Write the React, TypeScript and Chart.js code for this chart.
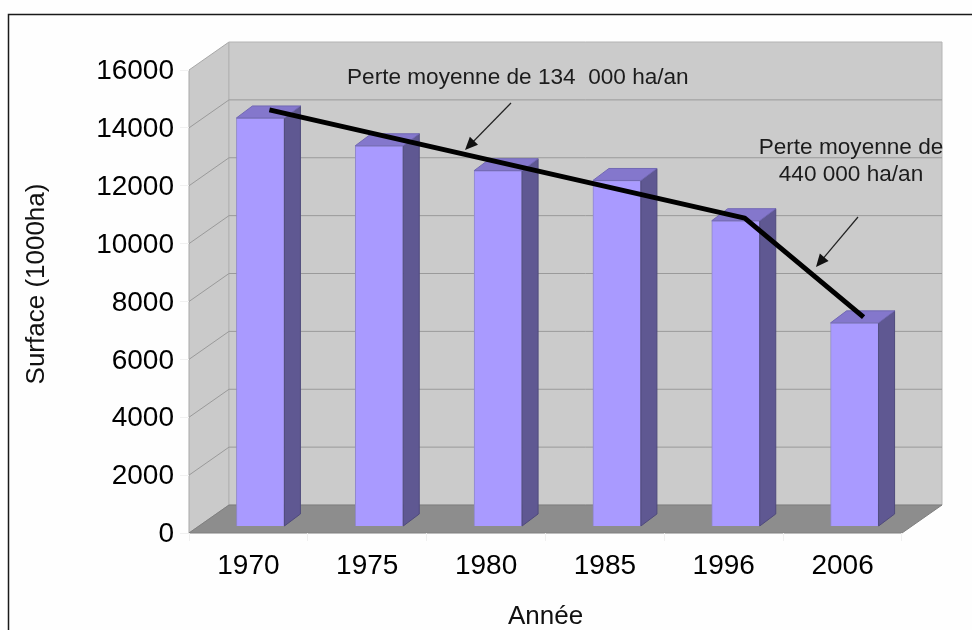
import React, { useEffect, useRef } from "react";
import { Chart, registerables } from "chart.js";

Chart.register(...registerables);

const categories = ["1970", "1975", "1980", "1985", "1996", "2006"];
const surface = [14100, 13140, 12280, 11940, 10550, 7020];
const trend = [14620, null, null, null, 10880, 7460];
const noteTop = "Perte moyenne de 134  000 ha/an";
const noteRight = ["Perte moyenne de", "440 000 ha/an"];
const yTitle = "Surface (1000ha)";
const xTitle = "Année";

const FONT = '"Liberation Sans", Arial, sans-serif';
const WALL = { dx: 40, dy: -28 };
const BAR_DEPTH = { dx: 16, dy: -12 };
const DATASET_SHIFT = [12, 21];

function arrow(ctx: CanvasRenderingContext2D, x1: number, y1: number, x2: number, y2: number) {
  const a = Math.atan2(y2 - y1, x2 - x1);
  ctx.strokeStyle = "#222";
  ctx.fillStyle = "#111";
  ctx.lineWidth = 1.2;
  ctx.beginPath();
  ctx.moveTo(x1, y1);
  ctx.lineTo(x2 - 6 * Math.cos(a), y2 - 6 * Math.sin(a));
  ctx.stroke();
  ctx.beginPath();
  ctx.moveTo(x2, y2);
  ctx.lineTo(x2 - 14 * Math.cos(a - 0.42), y2 - 14 * Math.sin(a - 0.42));
  ctx.lineTo(x2 - 14 * Math.cos(a + 0.42), y2 - 14 * Math.sin(a + 0.42));
  ctx.closePath();
  ctx.fill();
}

function poly(ctx: CanvasRenderingContext2D, pts: number[][], fill: string, stroke?: string) {
  ctx.beginPath();
  pts.forEach(([x, y], i) => (i ? ctx.lineTo(x, y) : ctx.moveTo(x, y)));
  ctx.closePath();
  ctx.fillStyle = fill;
  ctx.fill();
  if (stroke) {
    ctx.strokeStyle = stroke;
    ctx.lineWidth = 1;
    ctx.stroke();
  }
}

const scenePlugin = {
  id: "scene",
  beforeDraw(chart: any) {
    const { ctx, chartArea: a, scales } = chart;
    const { dx, dy } = WALL;
    ctx.save();
    ctx.fillStyle = "#fefefe";
    ctx.fillRect(0, 0, chart.width, chart.height);
    // outer frame
    ctx.strokeStyle = "#1a1a1a";
    ctx.lineWidth = 1.5;
    ctx.beginPath();
    ctx.moveTo(8.5, chart.height);
    ctx.lineTo(8.5, 14.5);
    ctx.lineTo(chart.width, 14.5);
    ctx.stroke();
    // walls
    poly(ctx, [[a.left, a.top], [a.left + dx, a.top + dy], [a.left + dx, a.bottom + dy], [a.left, a.bottom]], "#cacaca", "#a8a8a8");
    poly(ctx, [[a.left + dx, a.top + dy], [a.right + dx, a.top + dy], [a.right + dx, a.bottom + dy], [a.left + dx, a.bottom + dy]], "#cbcbcb", "#b4b4b4");
    // gridlines
    ctx.strokeStyle = "#9a9a9a";
    ctx.lineWidth = 1;
    scales.y.ticks.forEach((t: any) => {
      const y = scales.y.getPixelForValue(t.value);
      if (t.value === 0 || t.value === 16000) return;
      ctx.beginPath();
      ctx.moveTo(a.left, y);
      ctx.lineTo(a.left + dx, y + dy);
      ctx.lineTo(a.right + dx, y + dy);
      ctx.stroke();
    });
    // floor
    poly(ctx, [[a.left, a.bottom], [a.left + dx, a.bottom + dy], [a.right + dx, a.bottom + dy], [a.right, a.bottom]], "#8d8d8d", "#7f7f7f");
    ctx.restore();
  },
  beforeDatasetDraw(chart: any, args: any) {
    chart.ctx.save();
    chart.ctx.translate(DATASET_SHIFT[args.index], 0);
  },
  afterDatasetDraw(chart: any, args: any) {
    const ctx = chart.ctx;
    if (args.index === 0) {
      const { dx, dy } = BAR_DEPTH;
      args.meta.data.forEach((bar: any) => {
        const p = bar.getProps(["x", "y", "base", "width"], true);
        const l = p.x - p.width / 2;
        const r = p.x + p.width / 2;
        poly(ctx, [[r, p.y], [r + dx, p.y + dy], [r + dx, p.base + dy], [r, p.base]], "#5f5892", "#4f4a7c");
        poly(ctx, [[l, p.y], [l + dx, p.y + dy], [r + dx, p.y + dy], [r, p.y]], "#8477cc", "#7268b4");
      });
    }
    ctx.restore();
  },
  afterDraw(chart: any) {
    const { ctx } = chart;
    ctx.save();
    ctx.fillStyle = "#1c1c1c";
    ctx.font = `22.6px ${FONT}`;
    ctx.textBaseline = "middle";
    ctx.textAlign = "left";
    ctx.fillText(noteTop, 347, 78);
    ctx.textAlign = "center";
    ctx.fillText(noteRight[0], 851, 148);
    ctx.fillText(noteRight[1], 851, 175);
    arrow(ctx, 511, 103, 465, 150);
    arrow(ctx, 858, 217, 816, 267);
    // y axis title
    ctx.save();
    ctx.translate(37, 284);
    ctx.rotate(-Math.PI / 2);
    ctx.font = `26px ${FONT}`;
    ctx.fillStyle = "#111";
    ctx.fillText(yTitle, 0, 0);
    ctx.restore();
    ctx.restore();
  },
};

export default function App() {
  const ref = useRef<HTMLCanvasElement>(null);
  useEffect(() => {
    const chart = new Chart(ref.current!, {
      type: "bar",
      data: {
        labels: categories,
        datasets: [
          {
            type: "bar",
            data: surface,
            yAxisID: "yBars",
            backgroundColor: "#a99aff",
            borderColor: "#8f88c8",
            borderWidth: 1,
            barThickness: 48,
            clip: false,
            order: 2,
          },
          {
            type: "line",
            data: trend,
            yAxisID: "y",
            borderColor: "#000",
            borderWidth: 5,
            pointRadius: 0,
            spanGaps: true,
            borderCapStyle: "butt",
            borderJoinStyle: "round",
            clip: false,
            order: 1,
          },
        ],
      } as any,
      options: {
        responsive: false,
        animation: false,
        layout: { padding: { top: 70, right: 70, left: 0, bottom: 0 } },
        plugins: { legend: { display: false }, tooltip: { enabled: false }, title: { display: false } },
        scales: {
          x: {
            grid: { drawOnChartArea: false, drawTicks: true, tickLength: 8, tickColor: "#f0f0f0", offset: true },
            border: { display: false },
            ticks: { color: "#000", padding: 8, maxRotation: 0, font: { family: FONT, size: 28 } },
            title: { display: true, text: xTitle, color: "#111", font: { family: FONT, size: 26 }, padding: { top: 0, bottom: -2 } },
            afterFit(s: any) {
              s.height = 97;
            },
          },
          y: {
            min: 0,
            max: 16000,
            grid: { drawOnChartArea: false, tickLength: 9, tickColor: "#f0f0f0" },
            border: { display: false },
            ticks: {
              stepSize: 2000,
              color: "#000",
              padding: 6,
              labelOffset: 1.5,
              font: { family: FONT, size: 28 },
              callback: (v: any) => String(v),
            },
            afterFit(s: any) {
              s.width = 189;
            },
          },
          yBars: { display: false, min: -242, max: 15758 },
        },
      } as any,
      plugins: [scenePlugin],
    });
    return () => chart.destroy();
  }, []);
  return (
    <canvas
      ref={ref}
      width={972}
      height={630}
      style={{ position: "fixed", left: 0, top: 0, width: 972, height: 630, display: "block", filter: "blur(0.5px)" }}
    />
  );
}
